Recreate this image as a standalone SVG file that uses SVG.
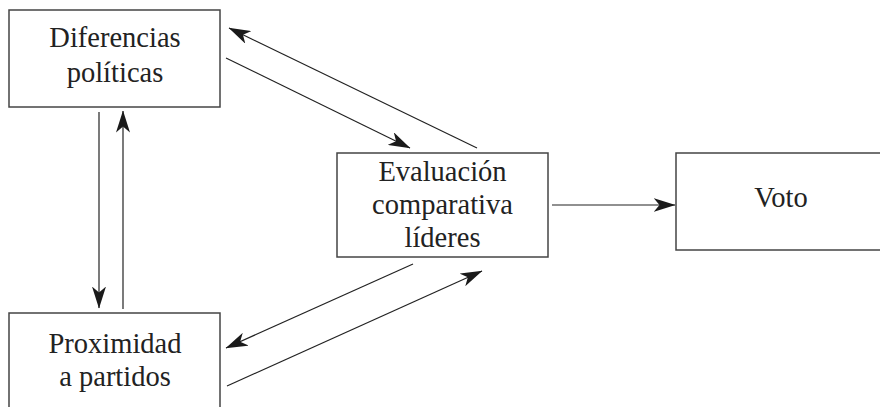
<svg xmlns="http://www.w3.org/2000/svg" width="880" height="407" viewBox="0 0 880 407">
<defs>
<marker id="ah" viewBox="0 0 22 14" refX="21.5" refY="7" markerWidth="22" markerHeight="14" markerUnits="userSpaceOnUse" orient="auto">
<path d="M0,0 L22,7 L0,14 L6,7 Z" fill="#1a1a1a"/>
</marker>
</defs>
<style>
.box{fill:#fff;stroke:#444;stroke-width:1.5}
.lbl{font-family:"Liberation Serif","Times New Roman",serif;font-size:28.5px;fill:#222;text-anchor:middle}
.edge{stroke:#222;stroke-width:1.2;fill:none;marker-end:url(#ah)}
</style>
<rect width="880" height="407" fill="#fff"/>
<g id="diferencias">
<rect class="box" x="9" y="10" width="211" height="97"/>
<text class="lbl" x="115" y="47">Diferencias</text>
<text class="lbl" x="115" y="82">políticas</text>
</g>
<g id="proximidad">
<rect class="box" x="9" y="313" width="211" height="110"/>
<text class="lbl" x="115" y="353">Proximidad</text>
<text class="lbl" x="115" y="386">a partidos</text>
</g>
<g id="evaluacion">
<rect class="box" x="337" y="153" width="211" height="104"/>
<text class="lbl" x="442.5" y="181">Evaluación</text>
<text class="lbl" x="442.5" y="214">comparativa</text>
<text class="lbl" x="442.5" y="247">líderes</text>
</g>
<g id="voto">
<rect class="box" x="676" y="153" width="220" height="97"/>
<text class="lbl" x="781" y="207">Voto</text>
</g>
<g id="connectors">
<line class="edge" x1="99" y1="112" x2="99" y2="308"/>
<line class="edge" x1="123" y1="309" x2="123" y2="111"/>
<line class="edge" x1="477" y1="148" x2="229" y2="28"/>
<line class="edge" x1="226" y1="58" x2="410" y2="148"/>
<line class="edge" x1="413" y1="264" x2="226" y2="348"/>
<line class="edge" x1="227" y1="386" x2="482" y2="271"/>
<line class="edge" x1="552" y1="205" x2="675" y2="205"/>
</g>
</svg>
